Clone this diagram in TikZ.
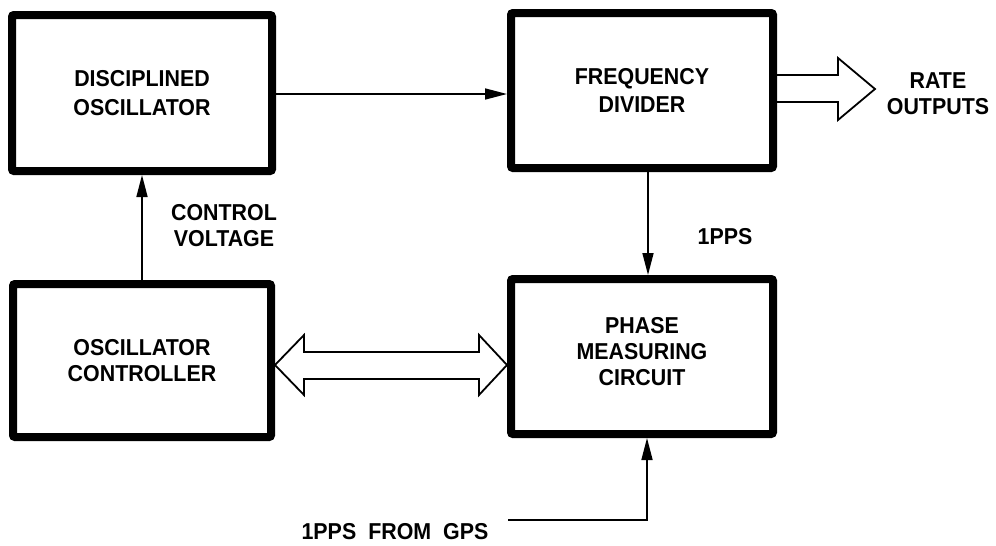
\documentclass[tikz,border=0pt]{standalone}
\usepackage{fontspec}
\setmainfont[FakeStretch=0.93]{Liberation Sans}
\usetikzlibrary{arrows.meta,calc}
\tikzset{
  block/.style={draw, line width=8pt, rounded corners=2pt, align=center,
    font=\bfseries\fontsize{23}{26}\selectfont, inner sep=0pt},
  lbl/.style={align=center, font=\bfseries\fontsize{23}{26}\selectfont, inner sep=0pt},
  sig/.style={line width=1.6pt, -{Triangle[length=22pt,width=11pt]}},
  bus/.style={line width=1.8pt, line join=miter}
}
\begin{document}
\begin{tikzpicture}[x=1pt, y=-1pt]
  \useasboundingbox[fill=white] (0,0) rectangle (996,546);

  % the four blocks
  \node[block, minimum width=260pt, minimum height=156pt] (disc) at (142,93)
    {DISCIPLINED\\[3pt]OSCILLATOR};
  \node[block, minimum width=262pt, minimum height=155pt] (div) at (642,90.5)
    {FREQUENCY\\[2pt]DIVIDER};
  \node[block, minimum width=258pt, minimum height=153pt] (ctrl) at (142,360.5)
    {OSCILLATOR\\CONTROLLER};
  \node[block, minimum width=262pt, minimum height=155pt] (phase) at (642,356.5)
    {PHASE\\MEASURING\\CIRCUIT\rule[-10pt]{0pt}{1pt}};

  % free-standing labels
  \node[lbl] (cv) at (224,226) {CONTROL\\VOLTAGE};
  \node[lbl] (pps) at (725,237) {1PPS};
  \node[lbl] (rate) at (938,94) {RATE\\OUTPUTS};
  \node[lbl] (gps) at (395,532) {1PPS\hspace{12pt}FROM\hspace{12pt}GPS};

  % helper points for the connectors
  \coordinate (oscy) at (0,94);
  \coordinate (ppsx) at (648,0);
  \coordinate (gpsin) at (508,520);
  \coordinate (gpscorner) at (647,520);
  \coordinate (busy) at (0,365);
  \coordinate (rtop) at (0,75);
  \coordinate (rbot) at (0,102);

  % oscillator output into the divider
  \draw[sig] (disc.east |- oscy) -- (div.west |- oscy);
  % control voltage from the controller
  \draw[sig] (ctrl.north) -- (disc.south);
  % 1PPS from the divider
  \draw[sig] (div.south -| ppsx) -- (phase.north -| ppsx);
  % external 1PPS reference
  \draw[sig] (gpsin) -- (gpscorner) -- (gpscorner |- phase.south);

  % two-way bus between controller and phase circuit
  \coordinate (lt) at (ctrl.east |- busy);
  \coordinate (rt) at (phase.west |- busy);
  \draw[bus] (lt) -- ++(29,-30) -- ++(0,17) -- ($(rt)+(-28,-13)$) -- ++(0,-17)
    -- (rt) -- ++(-28,30) -- ++(0,-16) -- ($(lt)+(29,14)$) -- ++(0,16) -- cycle;

  % rate outputs
  \draw[bus] (div.east |- rtop) -- (838,75) -- (838,58) -- (875,89)
    -- (838,120) -- (838,102) -- (div.east |- rbot);
\end{tikzpicture}
\end{document}
